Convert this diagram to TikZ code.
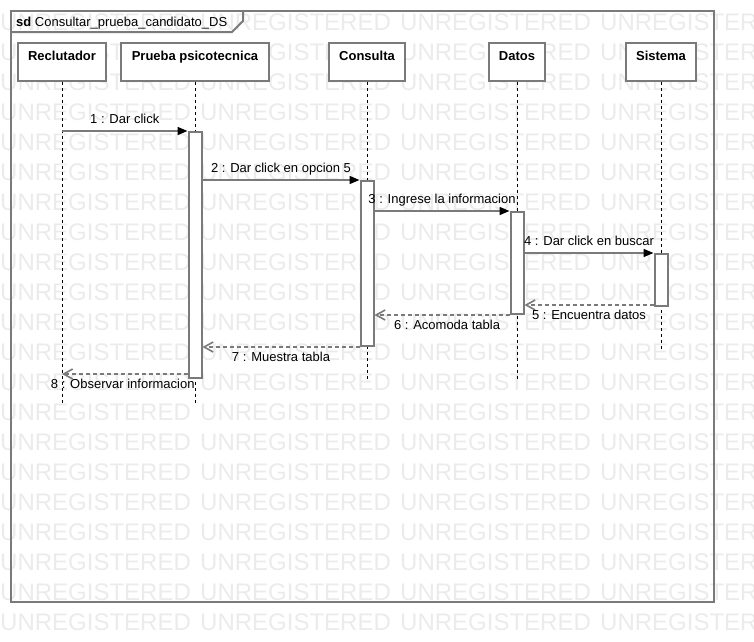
\documentclass[tikz,border=0pt]{standalone}
\usepackage{fontspec}
\setmainfont{Liberation Sans}
\usepackage{xcolor}
\usetikzlibrary{arrows.meta,positioning}

\definecolor{linegray}{HTML}{7A7A7A}
\definecolor{markgray}{HTML}{EBEBEB}

\begin{document}
\begin{tikzpicture}[
    x=1pt, y=-1pt,
    font=\fontsize{13}{15}\selectfont,
    watermark/.style={anchor=west, inner sep=0pt, text=markgray, font=\fontsize{24}{28}\selectfont},
    frame/.style={rectangle, draw=linegray, line width=2pt, anchor=north west, inner sep=0pt, minimum width=703pt, minimum height=591pt},
    tab/.style={draw=linegray, line width=2pt},
    head/.style={rectangle, draw=linegray, fill=white, line width=2pt, font=\fontsize{13}{15}\selectfont\bfseries, text height=13pt, text depth=17pt, inner ysep=4pt, inner xsep=0pt},
    lifeline/.style={dash pattern=on 3pt off 3pt, line width=1pt},
    act/.style={rectangle, draw=linegray, fill=white, line width=2pt, minimum width=13pt, inner sep=0pt},
    call/.style={draw=linegray, line width=1.6pt, -{Triangle[length=10pt, width=8pt, color=black]}},
    reply/.style={draw=linegray, line width=1.6pt, dash pattern=on 4pt off 3pt, -{Straight Barb[length=9pt, width=10pt]}},
    msg/.style={inner xsep=0pt, inner ysep=3.5pt, text height=10pt, text depth=3pt}
]
    \useasboundingbox (0,0) rectangle (754,641);

    % Background watermark
    \begin{scope}
        \clip (0,0) rectangle (754,641);
        \foreach \r in {0,...,20}
            \foreach \c in {0,...,3}
                \node[watermark] (wm-\r-\c) at (200*\c, 22+30*\r) {UNREGISTERED};
    \end{scope}

    % Frame
    \node[frame] (sd) at (10,10) {};
    \draw[tab] ([yshift=-22pt]sd.north west) -- ++(222,0) -- ++(11,-11) -- ++(0,-11);
    \node[anchor=base west, inner sep=0pt] (sd-title) at (16,26) {\textbf{sd}\ Consultar\_prueba\_candidato\_DS};

    % Lifeline heads
    \node[head, anchor=north, minimum width=88pt] (rec) at (62,42) {Reclutador};
    \node[head, minimum width=148pt, right=13pt of rec] (pru) {Prueba psicotecnica};
    \node[head, minimum width=76pt, right=58pt of pru] (con) {Consulta};
    \node[head, minimum width=56pt, right=82pt of con] (dat) {Datos};
    \node[head, minimum width=70pt, right=79pt of dat] (sis) {Sistema};

    % Lifeline ends
    \coordinate[below=321pt of rec] (rec-end);
    \coordinate[below=321pt of pru] (pru-end);
    \coordinate[below=297pt of con] (con-end);
    \coordinate[below=297pt of dat] (dat-end);
    \coordinate[below=267pt of sis] (sis-end);

    \draw[lifeline] (rec) -- (rec-end);
    \draw[lifeline] (pru) -- (pru-end);
    \draw[lifeline] (con) -- (con-end);
    \draw[lifeline] (dat) -- (dat-end);
    \draw[lifeline] (sis) -- (sis-end);

    % Activation bars
    \node[act, minimum height=246pt, below=49pt of pru] (pru-act) {};
    \node[act, minimum height=165pt, below=98pt of con] (con-act) {};
    \node[act, minimum height=102pt, below=129pt of dat] (dat-act) {};
    \node[act, minimum height=52pt, below=171pt of sis] (sis-act) {};

    % Calls
    \draw[call] (rec-end |- pru-act.north) -- node[above, msg] (m1) {1 : Dar click} (pru-act.north west);
    \draw[call] (pru-act.east |- con-act.north) -- node[above, msg] (m2) {2 : Dar click en opcion 5} (con-act.north west);
    \draw[call] (con-act.east |- dat-act.north) -- node[above, msg] (m3) {3 : Ingrese la informacion} (dat-act.north west);
    \draw[call] (dat-act.east |- sis-act.north) -- node[above, msg] (m4) {4 : Dar click en buscar} (sis-act.north west);

    % Replies
    \path ([yshift=2pt]sis-act.south west) coordinate (r5-from);
    \path ([yshift=5pt]pru-act.south west) coordinate (r8-from);
    \draw[reply] (r5-from) -- node[below, msg] (m5) {5 : Encuentra datos} (dat-act.east |- r5-from);
    \draw[reply] (dat-act.south west) -- node[below, msg, xshift=5pt] (m6) {6 : Acomoda tabla} (con-act.east |- dat-act.south west);
    \draw[reply] (con-act.south west) -- node[below, msg] (m7) {7 : Muestra tabla} (pru-act.east |- con-act.south west);
    \draw[reply] (r8-from) -- node[below, msg, xshift=-2pt] (m8) {8 : Observar informacion} (rec-end |- r8-from);
\end{tikzpicture}
\end{document}
